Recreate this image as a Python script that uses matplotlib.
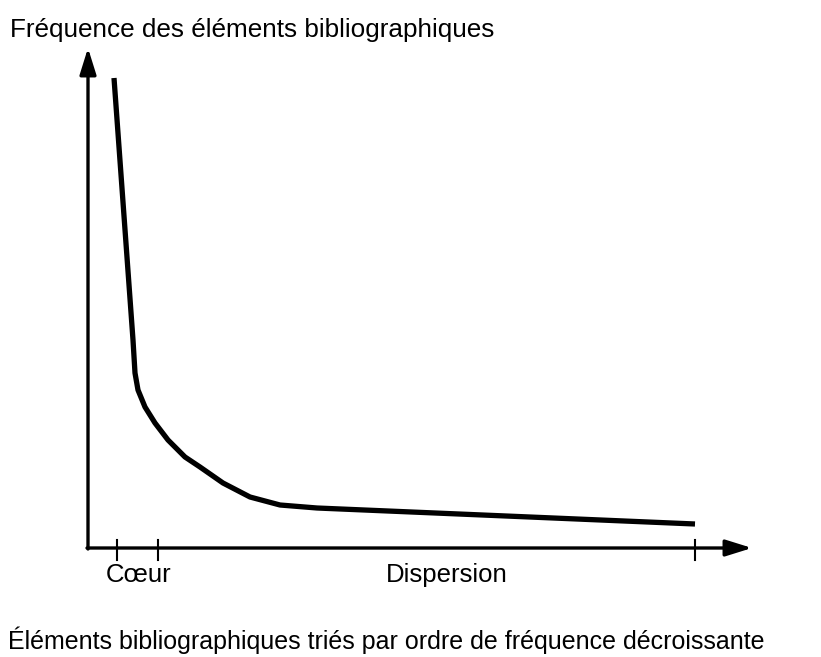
import matplotlib.pyplot as plt

# courbe (origine = coin des axes, unités = pixels)
rang = [26, 45, 47, 50, 57, 67, 80, 97, 112, 135, 162, 192, 229, 607]
frequence = [470, 208, 175, 158, 141, 125, 108, 91, 81, 65, 51, 43, 40, 24]

ticks_x = [29, 70, 607]
tick_labels = ["Cœur", "Dispersion"]
label_x = [51, 359]

titre_y = "Fréquence des éléments bibliographiques"
titre_x = "Éléments bibliographiques triés par ordre de fréquence décroissante"

plt.rcParams['font.family'] = ['Liberation Sans', 'DejaVu Sans']

fig = plt.figure(figsize=(8.21, 6.57), dpi=100)
ax = fig.add_axes([0, 0, 1, 1])
ax.set_xlim(-88, 733)
ax.set_ylim(-109, 548)
ax.axis("off")

# axes avec flèches
arrow = dict(arrowstyle="-|>,head_length=1.6,head_width=0.5", lw=2.4, color="black",
             shrinkA=0, shrinkB=0)
ax.annotate("", xy=(664, 0), xytext=(-1, 0), arrowprops=arrow)
ax.annotate("", xy=(0, 500), xytext=(0, -1), arrowprops=arrow)

ax.plot(rang, frequence, color="black", lw=3.8, solid_joinstyle="round", solid_capstyle="butt")

for t in ticks_x:
    ax.plot([t, t], [-12, 8], color="black", lw=1.5)

for lx, lab in zip(label_x, tick_labels):
    ax.text(lx, -34, lab, ha="center", va="baseline", fontsize=18.5)

ax.text(-78, 511, titre_y, ha="left", va="baseline", fontsize=18.8)
ax.text(-80, -101, titre_x, ha="left", va="baseline", fontsize=18)

fig.savefig("out.png", dpi=100)
